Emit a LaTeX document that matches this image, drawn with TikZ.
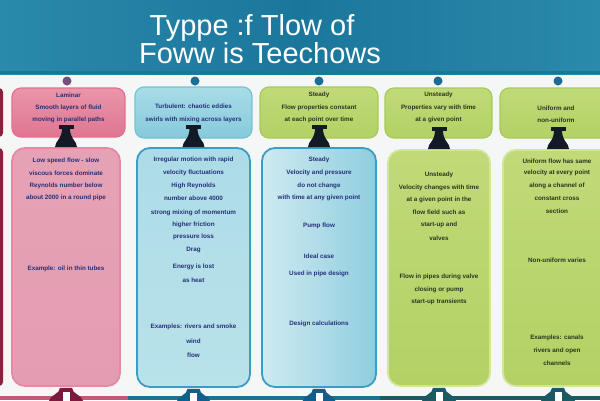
\documentclass[tikz,border=0pt]{standalone}
\usepackage{fontspec}
\setmainfont{Liberation Sans}
\usetikzlibrary{calc}
\definecolor{hdr}{HTML}{2A8AAB}
\definecolor{hdrdark}{HTML}{1B769C}
\definecolor{navy}{HTML}{26307A}
\definecolor{dkgreen}{HTML}{2B3520}
\definecolor{pinkA}{HTML}{EA96AA}
\definecolor{pinkB}{HTML}{E07591}
\definecolor{pinkR}{HTML}{E46F90}
\definecolor{pinkC}{HTML}{E6A2B5}
\definecolor{pinkM}{HTML}{D9CCDC}
\definecolor{pinkD}{HTML}{E49CB2}
\definecolor{pinkR2}{HTML}{E48AA5}
\definecolor{cyanA}{HTML}{A8DCE7}
\definecolor{cyanB}{HTML}{86CADB}
\definecolor{cyanR}{HTML}{74C2D7}
\definecolor{blueA}{HTML}{ACDCE7}
\definecolor{blueB}{HTML}{B9E2EA}
\definecolor{blueR}{HTML}{3C9DC2}
\definecolor{blueL}{HTML}{CFEAF0}
\definecolor{blueRt}{HTML}{8FCEDF}
\definecolor{grnA}{HTML}{C0DA78}
\definecolor{grnB}{HTML}{B3D165}
\definecolor{grnR}{HTML}{A7CB5A}
\definecolor{grnR2}{HTML}{D2E69A}
\definecolor{standc}{HTML}{121A26}
\definecolor{footpink}{HTML}{7A1A3E}
\definecolor{footblue}{HTML}{0E5F8A}
\definecolor{footteal}{HTML}{1C5A62}
\definecolor{dotpink}{HTML}{7B4A7E}
\definecolor{dotblue}{HTML}{1A6E96}
\definecolor{edge}{HTML}{8A1F3F}
\definecolor{bg}{HTML}{F5F7F7}
\tikzset{
  topbox/.style={rounded corners=9pt, line width=1.2pt},
  botbox/.style={rounded corners=13pt, line width=1.8pt},
  txt/.style={font=\bfseries\fontsize{6.3}{7}\selectfont, inner sep=0pt},
  dotnode/.style={circle, minimum size=9pt, inner sep=0pt},
  titletxt/.style={font=\fontsize{29}{32}\selectfont, text=white, anchor=base, inner sep=0pt},
  pics/neck/.style={code={
    \fill[standc] (-7.5,-22) rectangle (7.5,-18);
    \fill[standc] (-4,-18.5) .. controls (-4,-8) and (-11,-6) .. (-11,0) -- (11,0) .. controls (11,-6) and (4,-8) .. (4,-18.5) -- cycle;
  }},
  pics/foot/.style={code={
    \fill[#1] (-6,1) .. controls (-6,7) and (-16,8) .. (-17,14) -- (17,14) .. controls (16,8) and (6,7) .. (6,1) -- cycle;
    \fill[white] (-3.5,5) rectangle (3.5,14);
  }}
}
\begin{document}
\begin{tikzpicture}[x=1pt,y=-1pt]
\clip (0,0) rectangle (600,400);
\fill[bg] (0,0) rectangle (600,400);
% header
\shade[left color=hdr, right color=hdr, middle color=hdrdark] (0,0) rectangle (600,74);
\fill[hdrdark] (0,71) rectangle (600,74);
\node[titletxt] (title1) at (252,35) {Typpe :f Tlow of};
\node[titletxt] (title2) at (260,63) {Foww is Teechows};
% bottom strip
\fill[pinkB!70!footpink] (0,396) rectangle (128,400);
\fill[footblue!85!cyanB] (128,396) rectangle (380,400);
\fill[footteal] (380,396) rectangle (600,400);
% left edge remnants
\fill[edge, rounded corners=4pt] (-20,88) rectangle (3,137);
\fill[edge, rounded corners=4pt] (-20,148) rectangle (3,386);
% dots
\node[dotnode, fill=dotpink] (d1) at (67,81) {};
\node[dotnode, fill=dotblue] (d2) at (195,81) {};
\node[dotnode, fill=dotblue] (d3) at (319,81) {};
\node[dotnode, fill=dotblue] (d4) at (438,81) {};
\node[dotnode, fill=dotblue] (d5) at (558,81) {};
% top boxes
\node[topbox, draw=pinkR, top color=pinkA, bottom color=pinkB, minimum width=113pt, minimum height=49pt] (t1) at (68.5,112.5) {};
\node[topbox, draw=cyanR, top color=cyanA, bottom color=cyanB, minimum width=117pt, minimum height=51pt] (t2) at (193.5,112.5) {};
\node[topbox, draw=grnR, top color=grnA, bottom color=grnB, minimum width=118pt, minimum height=51pt] (t3) at (319,112.5) {};
\node[topbox, draw=grnR, top color=grnA, bottom color=grnB, minimum width=107pt, minimum height=50pt] (t4) at (438.5,113) {};
\node[topbox, draw=grnR, top color=grnA, bottom color=grnB, minimum width=112pt, minimum height=50pt] (t5) at (556,113) {};
% bottom boxes
\node[botbox, draw=pinkR2, top color=pinkC, middle color=pinkM, bottom color=pinkD, minimum width=108pt, minimum height=238pt] (b1) at (66,267) {};
\node[botbox, draw=blueR, top color=blueA, bottom color=blueB, minimum width=113pt, minimum height=239pt] (b2) at (193.5,267.5) {};
\node[botbox, draw=blueR, left color=blueL, right color=blueRt, minimum width=114pt, minimum height=239pt] (b3) at (319,267.5) {};
\node[botbox, draw=grnR2, top color=grnA, bottom color=grnB, minimum width=102pt, minimum height=236pt] (b4) at (439,268) {};
\node[botbox, draw=grnR2, top color=grnA, bottom color=grnB, minimum width=110pt, minimum height=236pt] (b5) at (558,268) {};
% stands between top and bottom boxes
\pic at (b1.north) {neck};
\pic at (b2.north) {neck};
\pic at (b3.north) {neck};
\pic at (b4.north) {neck};
\pic at (b5.north) {neck};
% feet
\pic at (b1.south) {foot=footpink};
\pic at (b2.south) {foot=footblue};
\pic at (b3.south) {foot=footblue};
\pic at (b4.south) {foot=footteal};
\pic at (b5.south) {foot=footteal};
% texts column 1
\foreach \q/\lbl [count=\i] in {95/{Laminar}, 108/{Smooth layers of fluid}, 120/{moving in parallel paths}}
  \node[txt, text=navy] (t1l\i) at (68.5,\q) {\lbl};
\foreach \q/\lbl [count=\i] in {161/{Low speed flow - slow}, 173/{viscous forces dominate}, 186/{Reynolds number below}, 198/{about 2000 in a round pipe}, 269/{Example: oil in thin tubes}}
  \node[txt, text=navy] (b1l\i) at (66,\q) {\lbl};
% column 2
\foreach \q/\lbl [count=\i] in {106/{Turbulent: chaotic eddies}, 120/{swirls with mixing across layers}}
  \node[txt, text=navy] (t2l\i) at (193.5,\q) {\lbl};
\foreach \q/\lbl [count=\i] in {160/{Irregular motion with rapid}, 173/{velocity fluctuations}, 186/{High Reynolds}, 198/{number above 4000}, 213/{strong mixing of momentum}, 225/{higher friction}, 237/{pressure loss}, 250/{Drag}, 267/{Energy is lost}, 280/{as heat}, 327/{Examples: rivers and smoke}, 341/{wind}, 355/{flow}}
  \node[txt, text=navy] (b2l\i) at (193.5,\q) {\lbl};
% column 3
\foreach \q/\lbl [count=\i] in {95/{Steady}, 108/{Flow properties constant}, 120/{at each point over time}}
  \node[txt, text=dkgreen] (t3l\i) at (319,\q) {\lbl};
\foreach \q/\lbl [count=\i] in {160/{Steady}, 173/{Velocity and pressure}, 186/{do not change}, 198/{with time at any given point}, 226/{Pump flow}, 256/{Ideal case}, 274/{Used in pipe design}, 324/{Design calculations}}
  \node[txt, text=navy] (b3l\i) at (319,\q) {\lbl};
% column 4
\foreach \q/\lbl [count=\i] in {95/{Unsteady}, 108/{Properties vary with time}, 120/{at a given point}}
  \node[txt, text=dkgreen] (t4l\i) at (438.5,\q) {\lbl};
\foreach \q/\lbl [count=\i] in {175/{Unsteady}, 188/{Velocity changes with time}, 200/{at a given point in the}, 212/{flow field such as}, 225/{start-up and}, 238/{valves}, 277/{Flow in pipes during valve}, 290/{closing or pump}, 302/{start-up transients}}
  \node[txt, text=dkgreen] (b4l\i) at (439,\q) {\lbl};
% column 5
\foreach \q/\lbl [count=\i] in {108/{Uniform and}, 120/{non-uniform}}
  \node[txt, text=dkgreen] (t5l\i) at (556,\q) {\lbl};
\foreach \q/\lbl [count=\i] in {161/{Uniform flow has same}, 173/{velocity at every point}, 186/{along a channel of}, 198/{constant cross}, 211/{section}, 260/{Non-uniform varies}, 338/{Examples: canals}, 351/{rivers and open}, 363/{channels}}
  \node[txt, text=dkgreen] (b5l\i) at (557,\q) {\lbl};
\end{tikzpicture}
\end{document}
